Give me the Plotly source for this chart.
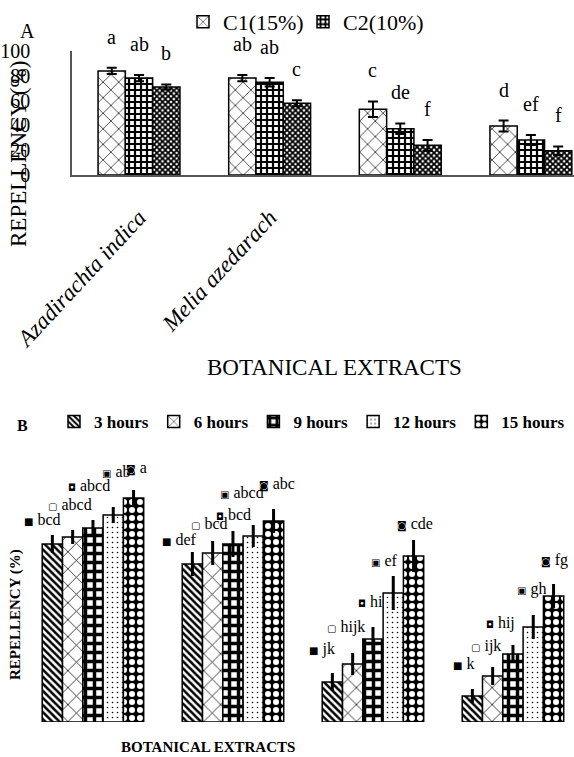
import plotly.graph_objects as go

W, H = 574, 757

# ---------------- data ----------------
extracts = ["Azadirachta indica", "Melia azedarach", "Extract 3", "Extract 4"]
labelled_extracts = ["Azadirachta indica", "Melia azedarach"]

# Panel A: repellency (%) by concentration
conc_names = ["C1(15%)", "C2(10%)", "C3(5%)"]
c1_values = [83.9, 78.2, 53.0, 39.5]
c2_values = [78.2, 74.8, 37.3, 28.2]
c3_values = [71.0, 57.8, 23.9, 19.6]
c1_err = [2.5, 2.5, 6.3, 4.4]
c2_err = [2.5, 3.4, 4.3, 4.0]
c3_err = [2.0, 2.4, 4.3, 3.4]
c1_letters = ["a", "ab", "c", "d"]
c2_letters = ["ab", "ab", "de", "ef"]
c3_letters = ["b", "c", "f", "f"]

# Panel B: repellency (%) by exposure time
time_names = ["3 hours", "6 hours", "9 hours", "12 hours", "15 hours"]
h3_values = [71.2, 63.2, 16.0, 10.4]
h6_values = [74.0, 67.6, 23.2, 18.4]
h9_values = [77.6, 71.2, 33.2, 27.2]
h12_values = [82.8, 74.4, 51.6, 38.0]
h15_values = [89.6, 80.4, 66.4, 50.4]
h3_err = [3.6, 4.8, 3.6, 2.8]
h6_err = [2.8, 4.8, 4.4, 3.6]
h9_err = [3.2, 5.2, 4.8, 3.6]
h12_err = [3.2, 4.4, 6.8, 4.8]
h15_err = [3.2, 4.8, 6.4, 4.8]
h3_letters = ["bcd", "def", "jk", "k"]
h6_letters = ["abcd", "bcd", "hijk", "ijk"]
h9_letters = ["abcd", "bcd", "hi", "hij"]
h12_letters = ["ab", "abcd", "ef", "gh"]
h15_letters = ["a", "abc", "cde", "fg"]

# ---------------- styles ----------------
SERIF = "Liberation Serif, Times New Roman, serif"

def px_x(p):
    return p / W

def px_y(p):
    return (H - p) / H

a_patterns = [
    dict(shape="x", fgcolor="black", bgcolor="white", size=11, solidity=0.12),
    dict(shape="+", fgcolor="black", bgcolor="white", size=6, solidity=0.6),
    dict(shape="x", fgcolor="black", bgcolor="white", size=4, solidity=0.7),
]
b_patterns = [
    dict(shape="\\", fgcolor="black", bgcolor="white", size=5, solidity=0.5),
    dict(shape="x", fgcolor="black", bgcolor="white", size=12, solidity=0.12),
    dict(shape="+", fgcolor="black", bgcolor="white", size=9, solidity=0.62),
    dict(shape=".", fgcolor="black", bgcolor="white", size=5, solidity=0.08),
    dict(shape=".", fgcolor="white", bgcolor="black", size=8, solidity=0.45),
]
b_icons = ["■", "▢", "◘", "▣", "◙"]

# label offsets (px) in panel B: (xshift, yshift) per series per group
b_shifts = [
    [(-30, 25), (-32, 25), (-25, 33), (-21, 33)],
    [(-27, 33), (-24, 30), (-28, 37), (-24, 30)],
    [(-27, 43), (-19, 30), (-17, 38), (-29, 31)],
    [(-13, 44), (-35, 44), (-24, 33), (-18, 38)],
    [(-10, 30), (-17, 38), (-19, 33), (-15, 36)],
]

fig = go.Figure()

# ---------------- Panel A ----------------
a_vals = [c1_values, c2_values, c3_values]
a_errs = [c1_err, c2_err, c3_err]
a_lets = [c1_letters, c2_letters, c3_letters]
nA = 3
wA = 0.209
annotations = []
for j in range(nA):
    off = -wA * nA / 2 + j * wA
    fig.add_trace(go.Bar(
        x=extracts, y=a_vals[j], name=conc_names[j],
        width=wA, offset=off,
        marker=dict(color="white", line=dict(color="black", width=1.5),
                    pattern=a_patterns[j]),
        error_y=dict(type="data", array=a_errs[j], color="black",
                     thickness=2, width=5),
        showlegend=(j < 2), legend="legend",
        xaxis="x", yaxis="y",
    ))
    for i in range(len(extracts)):
        annotations.append(dict(
            x=i + off + wA / 2, y=a_vals[j][i] + a_errs[j][i],
            xref="x", yref="y", text=a_lets[j][i], showarrow=False,
            xanchor="center", yanchor="middle", yshift=31,
            font=dict(family=SERIF, size=20, color="black"),
        ))

# ---------------- Panel B ----------------
b_vals = [h3_values, h6_values, h9_values, h12_values, h15_values]
b_errs = [h3_err, h6_err, h9_err, h12_err, h15_err]
b_lets = [h3_letters, h6_letters, h9_letters, h12_letters, h15_letters]
nB = 5
wB = 0.145
for j in range(nB):
    off = -wB * nB / 2 + j * wB
    fig.add_trace(go.Bar(
        x=extracts, y=b_vals[j], name=time_names[j],
        width=wB, offset=off,
        marker=dict(color=b_patterns[j]["bgcolor"],
                    line=dict(color="black", width=1.5),
                    pattern=b_patterns[j]),
        error_y=dict(type="data", array=b_errs[j], color="black",
                     thickness=3, width=0),
        legend="legend2",
        xaxis="x2", yaxis="y2",
    ))
    for i in range(len(extracts)):
        xs, ys = b_shifts[j][i]
        annotations.append(dict(
            x=i + off + wB / 2, y=b_vals[j][i],
            xref="x2", yref="y2",
            text=('<span style="font-family:DejaVu Sans;font-size:10px">'
                  + b_icons[j] + '</span> ' + b_lets[j][i]),
            showarrow=False, xanchor="left", yanchor="middle",
            xshift=xs, yshift=ys,
            font=dict(family=SERIF, size=16, color="black"),
        ))

# titles / panel letters
paper_text = [
    ("A", 27, 31, 0, dict(family=SERIF, size=20, color="black")),
    ("REPELLENCY (%)", 18, 154, -90, dict(family=SERIF, size=23, color="black")),
    ("BOTANICAL EXTRACTS", 334, 367, 0, dict(family=SERIF, size=23, color="black")),
    ("B", 22, 425, 0, dict(family=SERIF, size=16, color="black", weight="bold")),
    ("REPELLENCY (%)", 15, 615, -90, dict(family=SERIF, size=15, color="black", weight="bold")),
    ("BOTANICAL EXTRACTS", 208, 747, 0, dict(family=SERIF, size=15, color="black", weight="bold")),
]
for txt, px, py, ang, fnt in paper_text:
    annotations.append(dict(
        text=txt, x=px_x(px), y=px_y(py), xref="paper", yref="paper",
        xanchor="center", yanchor="middle", showarrow=False,
        textangle=ang, font=fnt,
    ))

fig.update_layout(
    template="none",
    width=W, height=H,
    margin=dict(l=0, r=0, t=0, b=0, pad=0, autoexpand=False),
    paper_bgcolor="white", plot_bgcolor="white",
    barmode="overlay",
    annotations=annotations,
    xaxis=dict(
        domain=[px_x(72), 1], anchor="y", type="category",
        range=[-0.513, 3.33], automargin=False,
        showline=True, linecolor="#555", linewidth=2,
        tickvals=labelled_extracts,
        ticktext=["<i>" + t + "</i>" for t in labelled_extracts],
        tickangle=-47, ticks="", ticklabelstandoff=18,
        tickfont=dict(family=SERIF, size=23, color="black"),
        showgrid=False, zeroline=False,
    ),
    yaxis=dict(
        domain=[px_y(175), px_y(51)], anchor="x", automargin=False,
        range=[0, 100], tickvals=[0, 20, 40, 60, 80, 100],
        showline=True, linecolor="#555", linewidth=1.5,
        ticks="", ticklabelstandoff=36,
        tickfont=dict(family=SERIF, size=20, color="black"),
        showgrid=False, zeroline=False,
    ),
    xaxis2=dict(
        domain=[0, 1], anchor="y2", type="category", automargin=False,
        range=[-0.664, 3.436],
        showline=False, showticklabels=False, ticks="",
        showgrid=False, zeroline=False,
    ),
    yaxis2=dict(
        domain=[px_y(722), px_y(450)], anchor="x2", automargin=False,
        range=[0, 108.8], visible=False,
    ),
    legend=dict(
        orientation="h", x=px_x(183), y=px_y(22), xanchor="left",
        yanchor="middle", bgcolor="rgba(0,0,0,0)", borderwidth=0,
        font=dict(family=SERIF, size=22, color="black"),
        entrywidth=75, itemwidth=30, tracegroupgap=0,
    ),
    legend2=dict(
        orientation="h", x=px_x(54), y=px_y(422), xanchor="left",
        yanchor="middle", bgcolor="rgba(0,0,0,0)", borderwidth=0,
        font=dict(family=SERIF, size=17, color="black", weight="bold"),
        itemwidth=30,
    ),
)

fig.write_html(
    "out.html",
    config={"displayModeBar": False},
    post_script="document.body.style.margin='0';document.body.style.padding='0';",
)
